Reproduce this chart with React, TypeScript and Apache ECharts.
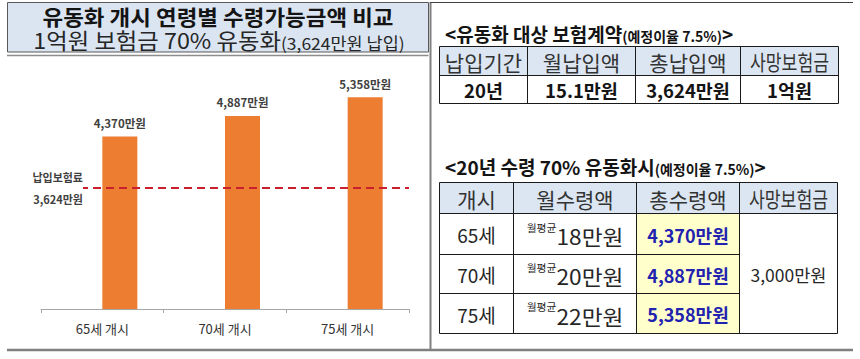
import React, { useEffect, useRef } from "react";
import * as echarts from "echarts";

// ---------- data ----------
const categories = ["65세 개시", "70세 개시", "75세 개시"];
const totalPayout = [4370, 4887, 5358]; // 만원
const premiumPaid = 3624; // 만원
const premiumLineLevel = 3060; // level at which the dashed line is drawn in the picture
const premiumLabel = "납입보험료";

const leftTitle = "유동화 개시 연령별 수령가능금액 비교";
const leftSubtitleMain = "1억원 보험금 70% 유동화";
const leftSubtitleSmall = "(3,624만원 납입)";

const contractTitle = "<유동화 대상 보험계약";
const rateNote = "(예정이율 7.5%)";
const contractHeaders = ["납입기간", "월납입액", "총납입액", "사망보험금"];
const contractValues = ["20년", "15.1만원", "3,624만원", "1억원"];

const payoutTitle = "<20년 수령 70% 유동화시";
const payoutHeaders = ["개시", "월수령액", "총수령액", "사망보험금"];
const startAges = ["65세", "70세", "75세"];
const monthlyPayout = [18, 20, 22]; // 만원, 월평균
const deathBenefit = "3,000만원";

const FONT = '"Noto Sans CJK KR", "Noto Sans", sans-serif';
const fmt = (n: number) => n.toLocaleString("en-US");

function txt(x: number, y: number, text: string, size: number, opts: any = {}) {
  return {
    type: "text",
    x,
    y,
    z: 10,
    scaleX: opts.scaleX || 1,
    style: {
      text,
      fontSize: size,
      fontFamily: FONT,
      fontWeight: opts.weight || "normal",
      fill: opts.fill || "#262626",
      align: opts.align || "center",
      verticalAlign: "middle",
      textAlign: opts.align || "center",
      textVerticalAlign: "middle",
      lineHeight: opts.lineHeight,
      rich: opts.rich,
    },
  };
}
function hline(x1: number, x2: number, y: number, stroke = "#1a1a1a", w = 1) {
  return { type: "line", z: 5, shape: { x1, y1: y, x2, y2: y }, style: { stroke, lineWidth: w } };
}
function vline(x: number, y1: number, y2: number, stroke = "#1a1a1a", w = 1) {
  return { type: "line", z: 5, shape: { x1: x, y1, x2: x, y2 }, style: { stroke, lineWidth: w } };
}
function rect(x: number, y: number, w: number, h: number, fill: string, stroke?: string) {
  return {
    type: "rect",
    z: 1,
    shape: { x, y, width: w, height: h },
    style: { fill, stroke: stroke || null, lineWidth: 1 },
  };
}

function buildGraphics() {
  const g: any[] = [];
  // left title box
  g.push(rect(7.5, 2.5, 421, 49.5, "#dbe5f1", "#595959"));
  g.push(hline(7, 428.5, 55.5, "#8c8c8c", 1.5));
  g.push(txt(218, 16, leftTitle, 21, { weight: "bold", fill: "#141414", scaleX: 1.07, lineHeight: 22 }));
  g.push(
    txt(219, 40, `{a|${leftSubtitleMain}}{b|${leftSubtitleSmall}}`, 22, {
      scaleX: 1.06,
      rich: {
        a: { fontSize: 22, fontFamily: FONT, fill: "#262626", verticalAlign: "bottom", lineHeight: 22 },
        b: { fontSize: 16.5, fontFamily: FONT, fill: "#262626", verticalAlign: "bottom", lineHeight: 20 },
      },
    })
  );
  // frames
  g.push(vline(430.5, 2, 351, "#7f7f7f", 2));
  g.push(hline(7, 853, 350, "#7f7f7f", 2.5));
  g.push(hline(430, 853, 2.5, "#404040", 1));

  const titleRich = {
    a: { fontSize: 19, fontWeight: "bold", fontFamily: FONT, fill: "#141414", verticalAlign: "bottom", lineHeight: 22 },
    b: { fontSize: 14, fontWeight: "bold", fontFamily: FONT, fill: "#141414", verticalAlign: "bottom", lineHeight: 20 },
  };
  g.push(txt(445, 32, `{a|${contractTitle}}{b|${rateNote}}{a|>}`, 19, { align: "left", rich: titleRich }));
  g.push(txt(445, 165, `{a|${payoutTitle}}{b|${rateNote}}{a|>}`, 19, { align: "left", rich: titleRich }));

  // table 1
  const c1 = [439.5, 527.5, 635.5, 740.5, 838.5];
  const r1 = [46.5, 75.5, 103.5];
  g.push(rect(c1[0], r1[0], c1[4] - c1[0], r1[1] - r1[0], "#dce6f2"));
  g.push(hline(c1[0], c1[4], r1[0]));
  g.push(hline(c1[0], c1[4], r1[1]));
  g.push(hline(c1[0], c1[4], r1[2]));
  c1.forEach((x) => g.push(vline(x, r1[0], r1[2])));
  contractHeaders.forEach((h, i) => {
    const cx = (c1[i] + c1[i + 1]) / 2;
    g.push(txt(cx, (r1[0] + r1[1]) / 2 + 0.5, h, 21, { scaleX: h.length > 4 ? 0.82 : 1, fill: "#333333" }));
  });
  contractValues.forEach((v, i) => {
    const cx = (c1[i] + c1[i + 1]) / 2;
    g.push(txt(cx, (r1[1] + r1[2]) / 2 + 0.5, v, 18.5, { weight: "bold", fill: "#141414" }));
  });

  // table 2
  const c2 = [439.5, 513.5, 636.5, 739.5, 837.5];
  const r2 = [182.5, 213.5, 254.5, 293.5, 333.5];
  g.push(rect(c2[0], r2[0], c2[4] - c2[0], r2[1] - r2[0], "#dce6f2"));
  g.push(rect(c2[2], r2[1], c2[3] - c2[2], r2[4] - r2[1], "#ffffcc"));
  g.push(hline(c2[0], c2[4], r2[0]));
  g.push(hline(c2[0], c2[4], r2[1]));
  g.push(hline(c2[0], c2[3], r2[2]));
  g.push(hline(c2[0], c2[3], r2[3]));
  g.push(hline(c2[0], c2[4], r2[4]));
  c2.forEach((x) => g.push(vline(x, r2[0], r2[4])));
  payoutHeaders.forEach((h, i) => {
    const cx = (c2[i] + c2[i + 1]) / 2;
    g.push(txt(cx, (r2[0] + r2[1]) / 2 + 0.5, h, 21, { scaleX: h.length > 4 ? 0.82 : 1, fill: "#333333" }));
  });
  startAges.forEach((age, j) => {
    const cy = (r2[j + 1] + r2[j + 2]) / 2 + 0.5;
    g.push(txt((c2[0] + c2[1]) / 2, cy, age, 19, { fill: "#262626" }));
    g.push(
      txt((c2[1] + c2[2]) / 2, cy, `{s|월평균}{m|${monthlyPayout[j]}만원}`, 21, {
        scaleX: 1.08,
        rich: {
          s: { fontSize: 10, fontFamily: FONT, fill: "#262626", verticalAlign: "top", lineHeight: 24 },
          m: { fontSize: 21, fontFamily: FONT, fill: "#262626", verticalAlign: "bottom", lineHeight: 24 },
        },
      })
    );
    g.push(txt((c2[2] + c2[3]) / 2, cy, `${fmt(totalPayout[j])}만원`, 18, { weight: "bold", fill: "#2222b0" }));
  });
  g.push(txt((c2[3] + c2[4]) / 2, (r2[1] + r2[4]) / 2 + 0.5, deathBenefit, 17.5, { fill: "#262626" }));
  return g;
}

export default function App() {
  const ref = useRef<HTMLDivElement>(null);
  useEffect(() => {
    if (!ref.current) return;
    const chart = echarts.init(ref.current, undefined, { renderer: "svg" });
    chart.setOption({
      animation: false,
      textStyle: { fontFamily: FONT },
      grid: { left: 41, right: 451, top: 72, bottom: 50 },
      xAxis: {
        type: "category",
        data: categories,
        axisLine: { lineStyle: { color: "#a6a6a6", width: 1 } },
        axisTick: { show: true, length: 4, lineStyle: { color: "#a6a6a6" } },
        axisLabel: { margin: 13, fontSize: 13, color: "#333333", fontFamily: FONT },
      },
      yAxis: { type: "value", min: 0, max: 6000, show: false, splitLine: { show: false } },
      series: [
        {
          name: "spacer",
          type: "bar",
          barWidth: 35,
          barGap: "0%",
          data: categories.map(() => null),
          silent: true,
        },
        {
          name: "총수령액",
          type: "bar",
          barWidth: 35,
          barGap: "0%",
          data: totalPayout,
          itemStyle: { color: "#ed7d31" },
          label: {
            show: true,
            position: "top",
            distance: 8,
            fontSize: 11.5,
            fontWeight: "bold",
            color: "#404040",
            fontFamily: FONT,
            formatter: (p: any) => `${fmt(p.value)}만원`,
          },
          markLine: {
            silent: true,
            symbol: ["none", "none"],
            lineStyle: { color: "#c8202c", type: [8, 5], width: 2 },
            label: {
              show: true,
              position: "start",
              distance: -42,
              formatter: `${premiumLabel}\n${fmt(premiumPaid)}만원`,
              fontSize: 11,
              fontWeight: "bold",
              color: "#404040",
              fontFamily: FONT,
              lineHeight: 22,
              backgroundColor: "#ffffff",
            },
            data: [{ yAxis: premiumLineLevel }],
          },
        },
      ],
      graphic: { elements: buildGraphics() },
    });
    return () => chart.dispose();
  }, []);
  return (
    <div
      ref={ref}
      style={{ position: "absolute", left: 0, top: 0, width: 860, height: 359, background: "#ffffff" }}
    />
  );
}
